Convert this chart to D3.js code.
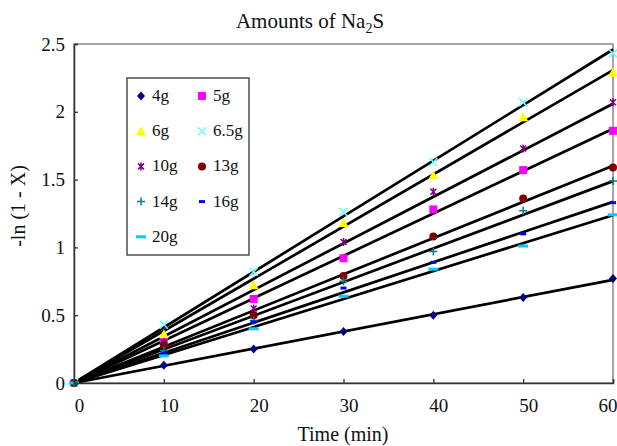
<!DOCTYPE html>
<html>
<head>
<meta charset="utf-8">
<script src="https://cdn.jsdelivr.net/npm/d3@7"></script>
<style>
  body { margin: 0; background: #fff; }
  text { fill: #111; }
</style>
</head>
<body>
<svg id="chart" width="617" height="446"></svg>
<script>
// time (min)
const times = [0, 10, 20, 30, 40, 50, 60];
const yTicks = [0, 0.5, 1, 1.5, 2, 2.5];
const xTicks = [0, 10, 20, 30, 40, 50, 60];

// amounts of Na2S, legend order
const amounts = ['4g', '5g', '6g', '6.5g', '10g', '13g', '14g', '16g', '20g'];
const colors = ['#000080', '#ff00ff', '#ffff00', '#66ffff', '#800080', '#800000', '#008080', '#0000ff', '#00ccff'];
const shapes = ['diamond', 'square', 'triangle', 'x', 'star', 'circle', 'plus', 'dash', 'longdash'];

// -ln(1 - X)
const v4 = [0, 0.13, 0.25, 0.38, 0.50, 0.63, 0.77];
const v5 = [0, 0.31, 0.62, 0.92, 1.28, 1.57, 1.86];
const v6 = [0, 0.36, 0.72, 1.18, 1.53, 1.96, 2.29];
const v65 = [0, 0.43, 0.82, 1.26, 1.63, 2.07, 2.43];
const v10 = [0, 0.30, 0.55, 1.04, 1.41, 1.73, 2.07];
const v13 = [0, 0.28, 0.50, 0.79, 1.08, 1.36, 1.59];
const v14 = [0, 0.24, 0.46, 0.75, 0.97, 1.27, 1.49];
const v16 = [0, 0.22, 0.45, 0.70, 0.89, 1.10, 1.33];
const v20 = [0, 0.20, 0.40, 0.64, 0.84, 1.01, 1.24];
const values = [v4, v5, v6, v65, v10, v13, v14, v16, v20];

const serif = '"Liberation Serif", "Times New Roman", serif';

const svg = d3.select('#chart');
const plotLeft = 74, plotRight = 613, plotTop = 44, plotBottom = 383;

const x = d3.scaleLinear().domain([0, 60]).range([plotLeft, plotRight]);
const y = d3.scaleLinear().domain([0, 2.5]).range([plotBottom, plotTop]);

// plot frame
svg.append('rect')
    .attr('x', plotLeft).attr('y', plotTop)
    .attr('width', plotRight - plotLeft).attr('height', plotBottom - plotTop)
    .attr('fill', 'none').attr('stroke', '#8a8a8a').attr('stroke-width', 1.5);

// fitted lines through origin (least squares)
const series = amounts.map((name, i) => {
    const vals = values[i];
    const sxy = d3.sum(times, (t, j) => t * vals[j]);
    const sxx = d3.sum(times, (t) => t * t);
    return { name, color: colors[i], shape: shapes[i], vals, slope: sxy / sxx };
});

const line = d3.line().x((d) => x(d[0])).y((d) => y(d[1]));

svg.append('g').selectAll('path')
    .data(series)
    .join('path')
    .attr('d', (s) => line([[0, 0], [60, s.slope * 60]]))
    .attr('fill', 'none')
    .attr('stroke', '#000')
    .attr('stroke-width', 2.7);

function marker(g, shape, color) {
    const s = 4;
    if (shape === 'diamond') {
        g.append('path').attr('d', `M0,${-s - 0.5}L${s},0L0,${s + 0.5}L${-s},0Z`).attr('fill', color);
    } else if (shape === 'square') {
        g.append('rect').attr('x', -s).attr('y', -s).attr('width', 2 * s).attr('height', 2 * s).attr('fill', color);
    } else if (shape === 'triangle') {
        g.append('path').attr('d', `M0,${-s - 1}L${s + 1},${s}L${-s - 1},${s}Z`).attr('fill', color);
    } else if (shape === 'x') {
        g.append('path').attr('d', `M${-s},${-s}L${s},${s}M${s},${-s}L${-s},${s}`)
            .attr('stroke', color).attr('stroke-width', 1.6);
    } else if (shape === 'star') {
        g.append('path').attr('d', `M${-s + 1},${-s + 1}L${s - 1},${s - 1}M${s - 1},${-s + 1}L${-s + 1},${s - 1}M0,${-s}L0,${s}`)
            .attr('stroke', color).attr('stroke-width', 1.5);
    } else if (shape === 'circle') {
        g.append('circle').attr('r', s).attr('fill', color);
    } else if (shape === 'plus') {
        g.append('path').attr('d', `M${-s},0L${s},0M0,${-s}L0,${s}`)
            .attr('stroke', color).attr('stroke-width', 1.5);
    } else if (shape === 'dash') {
        g.append('rect').attr('x', -3).attr('y', -1.5).attr('width', 6).attr('height', 3).attr('fill', color);
    } else {
        g.append('rect').attr('x', -5).attr('y', -1.5).attr('width', 10).attr('height', 3).attr('fill', color);
    }
}

// data markers
series.forEach((s) => {
    svg.append('g').selectAll('g')
        .data(times.map((t, j) => [t, s.vals[j]]))
        .join('g')
        .attr('transform', (d) => `translate(${x(d[0])},${y(d[1])})`)
        .each(function draw() { marker(d3.select(this), s.shape, s.color); });
});

// axes
const xAxis = svg.append('g')
    .attr('transform', `translate(0,${plotBottom})`)
    .call(d3.axisBottom(x).tickValues(xTicks).tickSize(-4).tickPadding(16).tickFormat(d3.format('d')));
const yAxis = svg.append('g')
    .attr('transform', `translate(${plotLeft},0)`)
    .call(d3.axisLeft(y).tickValues(yTicks).tickSize(-4).tickPadding(9).tickFormat((d) => String(d)));

[xAxis, yAxis].forEach((a) => {
    a.select('.domain').attr('stroke', '#333').attr('stroke-width', 1.5);
    a.selectAll('.tick line').attr('stroke', '#333').attr('stroke-width', 1.3);
    a.selectAll('.tick text')
        .style('font-family', serif)
        .style('font-size', '19px')
        .attr('fill', '#111');
});
xAxis.selectAll('.tick text').attr('dx', 5);
xAxis.selectAll('.tick text').filter((d) => d === 60)
    .attr('text-anchor', 'end').attr('dx', 4);

// legend
const legend = svg.append('g').attr('transform', 'translate(127,78)');
legend.append('rect')
    .attr('width', 122).attr('height', 177)
    .attr('fill', '#fff').attr('stroke', '#333').attr('stroke-width', 1.3);
const items = legend.selectAll('g.item')
    .data(series)
    .join('g')
    .attr('class', 'item')
    .attr('transform', (d, i) => `translate(${i % 2 === 0 ? 14 : 75},${18 + Math.floor(i / 2) * 35.2})`);
items.each(function draw(d) { marker(d3.select(this), d.shape, d.color); });
items.append('text')
    .attr('x', 11).attr('y', 5)
    .style('font-family', serif)
    .style('font-size', '17px')
    .text((d) => d.name);

// titles
const title = svg.append('text')
    .attr('x', 310).attr('y', 28)
    .attr('text-anchor', 'middle')
    .style('font-family', serif)
    .style('font-size', '21px');
title.append('tspan').text('Amounts of Na');
title.append('tspan').attr('dy', 5).style('font-size', '14px').text('2');
title.append('tspan').attr('dy', -5).text('S');

svg.append('text')
    .attr('x', 343).attr('y', 441)
    .attr('text-anchor', 'middle')
    .style('font-family', serif)
    .style('font-size', '20px')
    .text('Time (min)');

svg.append('text')
    .attr('transform', 'translate(25,206) rotate(-90)')
    .attr('text-anchor', 'middle')
    .style('font-family', serif)
    .style('font-size', '20px')
    .text('-ln (1 - X)');
</script>
</body>
</html>
